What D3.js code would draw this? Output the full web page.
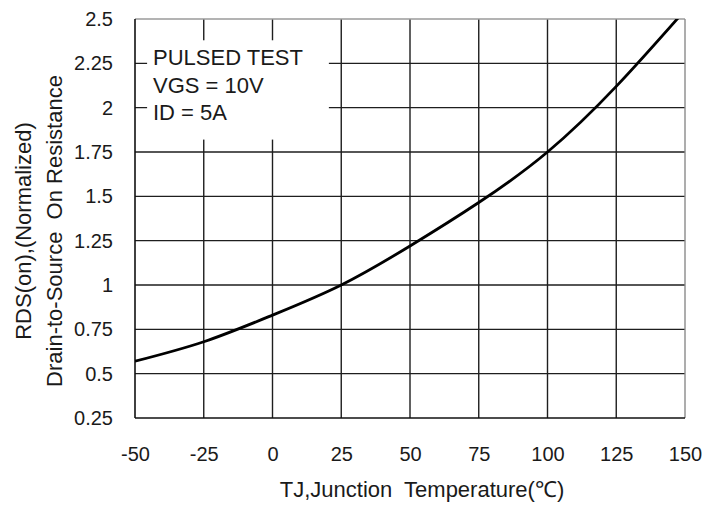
<!DOCTYPE html>
<html>
<head>
<meta charset="utf-8">
<script src="https://cdn.jsdelivr.net/npm/d3@7"></script>
<style>
  html, body { margin: 0; padding: 0; background: #fff; }
  svg { display: block; }
  text { font-family: Arial, "Liberation Sans", sans-serif; fill: #1a1a1a; }
</style>
</head>
<body>
<svg id="chart" width="723" height="507"></svg>
<script>
// ---- data ----
const temperatures = [-50, -25, 0, 25, 50, 75, 100, 125, 150];
const rdsNormalized = [0.57, 0.68, 0.83, 1.0, 1.22, 1.465, 1.75, 2.12, 2.55];
const xTicks = [-50, -25, 0, 25, 50, 75, 100, 125, 150];
const xTickLabels = ["-50", "-25", "0", "25", "50", "75", "100", "125", "150"];
const yTicks = [0.25, 0.5, 0.75, 1, 1.25, 1.5, 1.75, 2, 2.25, 2.5];
const yTickLabels = ["0.25", "0.5", "0.75", "1", "1.25", "1.5", "1.75", "2", "2.25", "2.5"];
const annotationLines = ["PULSED TEST", "VGS = 10V", "ID = 5A"];
const xTitle = "TJ,Junction  Temperature(\u2103)";
const yTitleLines = ["RDS(on),(Normalized)", "Drain-to-Source  On Resistance"];

// ---- layout ----
const W = 723, H = 507;
const m = { left: 135, right: 38, top: 19, bottom: 89 };
const iw = W - m.left - m.right, ih = H - m.top - m.bottom;

const svg = d3.select("#chart");
const g = svg.append("g").attr("transform", `translate(${m.left},${m.top})`);

const x = d3.scaleLinear().domain([-50, 150]).range([0, iw]);
const y = d3.scaleLinear().domain([0.25, 2.5]).range([ih, 0]);

// gridlines
const gridColor = "#1e1e1e";
g.append("g").selectAll("line.v").data(xTicks.slice(1, -1)).join("line")
  .attr("x1", d => x(d)).attr("x2", d => x(d))
  .attr("y1", 0).attr("y2", ih)
  .attr("stroke", gridColor).attr("stroke-width", 1.4);
g.append("g").selectAll("line.h").data(yTicks.slice(1, -1)).join("line")
  .attr("x1", 0).attr("x2", iw)
  .attr("y1", d => y(d)).attr("y2", d => y(d))
  .attr("stroke", gridColor).attr("stroke-width", 1.4);

// annotation white box (covers grid)
const boxX0 = x(-45.6), boxX1 = x(20.5), boxY0 = y(2.38), boxY1 = y(1.82);
g.append("rect")
  .attr("x", boxX0).attr("y", boxY0)
  .attr("width", boxX1 - boxX0).attr("height", boxY1 - boxY0)
  .attr("fill", "#fff");

// frame
g.append("line").attr("x1", 0).attr("x2", iw).attr("y1", 0).attr("y2", 0)
  .attr("stroke", "#9a9a9a").attr("stroke-width", 1.4);
g.append("line").attr("x1", iw).attr("x2", iw).attr("y1", 0).attr("y2", ih)
  .attr("stroke", "#8a8a8a").attr("stroke-width", 1.4);
g.append("line").attr("x1", 0).attr("x2", 0).attr("y1", 0).attr("y2", ih)
  .attr("stroke", "#111").attr("stroke-width", 1.6);
g.append("line").attr("x1", 0).attr("x2", iw).attr("y1", ih).attr("y2", ih)
  .attr("stroke", "#111").attr("stroke-width", 1.6);

// curve
svg.append("defs").append("clipPath").attr("id", "clip")
  .append("rect").attr("x", 0).attr("y", 0).attr("width", iw).attr("height", ih);
const pts = temperatures.map((t, i) => [t, rdsNormalized[i]]);
g.append("path")
  .datum(pts)
  .attr("clip-path", "url(#clip)")
  .attr("fill", "none").attr("stroke", "#000").attr("stroke-width", 2.8)
  .attr("d", d3.line().x(d => x(d[0])).y(d => y(d[1])).curve(d3.curveNatural));

// axes (labels only)
const xAxis = g.append("g").attr("transform", `translate(0,${ih})`)
  .call(d3.axisBottom(x).tickValues(xTicks).tickSize(0).tickPadding(29)
    .tickFormat((d, i) => xTickLabels[i]));
xAxis.select(".domain").remove();
xAxis.selectAll("text").style("font-size", "20px").style("font-family", "Arial, 'Liberation Sans', sans-serif").attr("fill", "#1a1a1a");

const yAxis = g.append("g")
  .call(d3.axisLeft(y).tickValues(yTicks).tickSize(0).tickPadding(22)
    .tickFormat((d, i) => yTickLabels[i]));
yAxis.select(".domain").remove();
yAxis.selectAll("text").style("font-size", "20px").style("font-family", "Arial, 'Liberation Sans', sans-serif").attr("fill", "#1a1a1a");

// annotation text
g.append("g").selectAll("text").data(annotationLines).join("text")
  .attr("x", 18).attr("y", (d, i) => 46 + i * 27.5)
  .style("font-size", "22px")
  .text(d => d);

// x title
svg.append("text")
  .attr("x", 422).attr("y", 497)
  .attr("text-anchor", "middle")
  .style("font-size", "22px")
  .style("white-space", "pre")
  .text(xTitle);

// y title (two lines, rotated)
const yt = svg.append("g").attr("transform", "translate(0,231) rotate(-90)");
yt.selectAll("text").data(yTitleLines).join("text")
  .attr("x", 0).attr("y", (d, i) => 31 + i * 31)
  .attr("text-anchor", "middle")
  .style("font-size", "22px")
  .style("white-space", "pre")
  .text(d => d);
</script>
</body>
</html>
